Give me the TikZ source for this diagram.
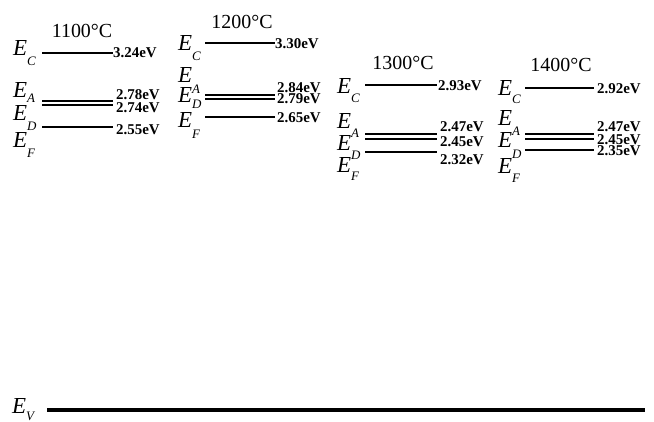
\documentclass[tikz,border=0pt]{standalone}
\usepackage{fontspec}
\setmainfont{Liberation Serif}
\usetikzlibrary{positioning}

% E with a dropped subscript, as in the band diagrams
\newcommand{\Elev}[2][9bp]{\textit{E}\raisebox{-#1}{\fontsize{13}{13}\selectfont\itshape #2}}

\begin{document}
\begin{tikzpicture}[x=1bp, y=-1bp,
    lvl/.style={line width=1.8bp},
    ename/.style={anchor=base west, inner sep=0pt, font=\fontsize{23}{23}\selectfont},
    eval/.style={anchor=west, inner sep=0pt, font=\fontsize{15}{15}\selectfont\bfseries},
    temp/.style={inner sep=0pt, font=\fontsize{20}{20}\selectfont}]
  \useasboundingbox (0,0) rectangle (654,421);

  % 1100 C
  \node[temp] (t1) at (82,31) {1100°C};
  \node[ename] (ec1) at (13,55) {\Elev[10bp]{C}};
  \node[ename] (ea1) at (13,97) {\Elev[5bp]{A}};
  \node[ename] (ed1) at (13,120) {\Elev[10bp]{D}};
  \node[ename] (ef1) at (13,147) {\Elev[10bp]{F}};
  \draw[lvl] (42,53) -- (113,53);
  \draw[lvl] (42,101) -- (113,101);
  \draw[lvl] (42,105) -- (113,105);
  \draw[lvl] (42,127) -- (113,127);
  \node[eval] (vc1) at (113,53) {3.24eV};
  \node[eval] (va1) at (116,95) {2.78eV};
  \node[eval] (vd1) at (116,107.5) {2.74eV};
  \node[eval] (vf1) at (116,129.5) {2.55eV};

  % 1200 C
  \node[temp] (t2) at (242,21.5) {1200°C};
  \node[ename] (ec2) at (178,50) {\Elev[10bp]{C}};
  \node[ename] (ea2) at (178,82) {\Elev[11bp]{A}};
  \node[ename] (ed2) at (178,102) {\Elev[6bp]{D}};
  \node[ename] (ef2) at (178,127) {\Elev[11bp]{F}};
  \draw[lvl] (205,43) -- (275,43);
  \draw[lvl] (205,95) -- (275,95);
  \draw[lvl] (205,99) -- (275,99);
  \draw[lvl] (205,117) -- (275,117);
  \node[eval] (vc2) at (275,44) {3.30eV};
  \node[eval] (va2) at (277,88) {2.84eV};
  \node[eval] (vd2) at (277,99) {2.79eV};
  \node[eval] (vf2) at (277,118) {2.65eV};

  % 1300 C
  \node[temp] (t3) at (403,62.5) {1300°C};
  \node[ename] (ec3) at (337,93) {\Elev[9bp]{C}};
  \node[ename] (ea3) at (337,128) {\Elev[9bp]{A}};
  \node[ename] (ed3) at (337,150) {\Elev[9bp]{D}};
  \node[ename] (ef3) at (337,172) {\Elev[8bp]{F}};
  \draw[lvl] (365,85) -- (437,85);
  \draw[lvl] (365,134) -- (437,134);
  \draw[lvl] (365,139) -- (437,139);
  \draw[lvl] (365,152) -- (437,152);
  \node[eval] (vc3) at (438,86) {2.93eV};
  \node[eval] (va3) at (440,127) {2.47eV};
  \node[eval] (vd3) at (440,142) {2.45eV};
  \node[eval] (vf3) at (440,160) {2.32eV};

  % 1400 C
  \node[temp] (t4) at (561,64.5) {1400°C};
  \node[ename] (ec4) at (498,95) {\Elev[8bp]{C}};
  \node[ename] (ea4) at (498,125) {\Elev[10bp]{A}};
  \node[ename] (ed4) at (498,147) {\Elev[11bp]{D}};
  \node[ename] (ef4) at (498,173) {\Elev[9bp]{F}};
  \draw[lvl] (525,88) -- (594,88);
  \draw[lvl] (525,134) -- (594,134);
  \draw[lvl] (525,139) -- (594,139);
  \draw[lvl] (525,150) -- (594,150);
  \node[eval] (vc4) at (597,89) {2.92eV};
  \node[eval] (va4) at (597,127) {2.47eV};
  \node[eval] (vd4) at (597,140) {2.45eV};
  \node[eval] (vf4) at (597,150.5) {2.35eV};

  % valence band
  \node[ename] (ev) at (12,413) {\Elev[7bp]{V}};
  \draw[line width=3.5bp] (47,410) -- (645,410);
\end{tikzpicture}
\end{document}
